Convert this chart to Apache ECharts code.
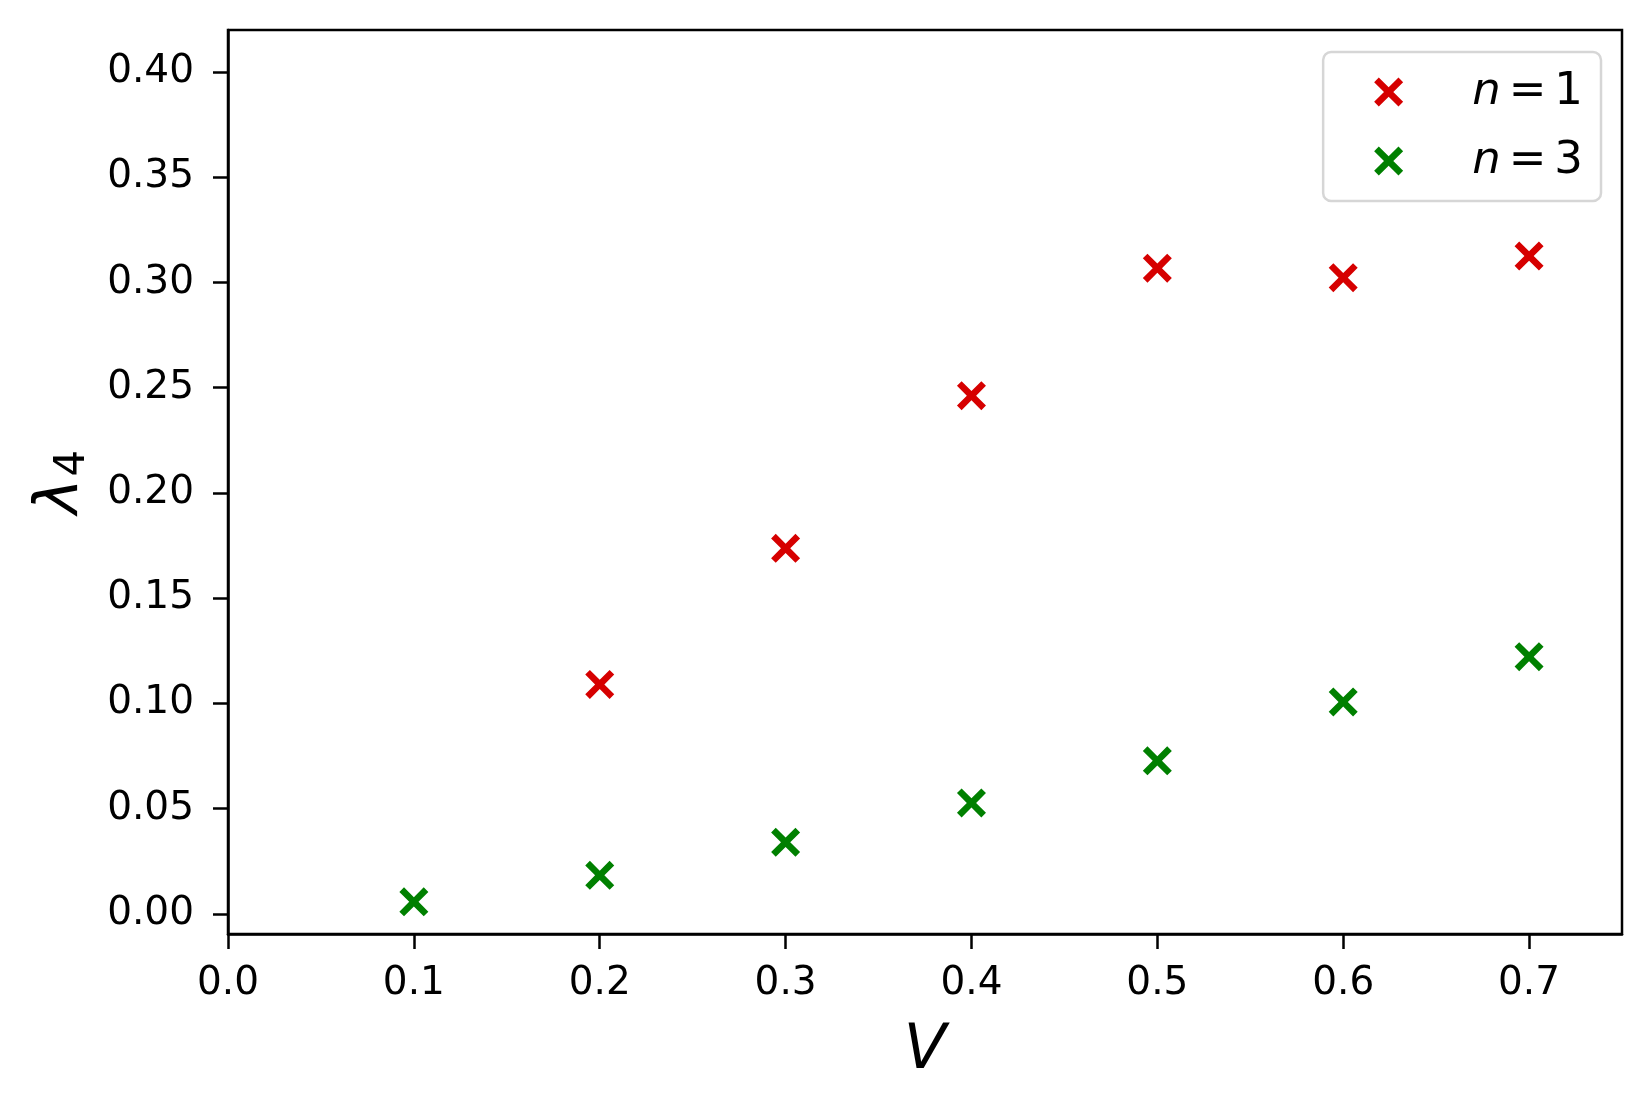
<!DOCTYPE html>
<html>
<head>
<meta charset="utf-8">
<script src="https://cdn.jsdelivr.net/npm/echarts@6/dist/echarts.min.js"></script>
<style>
  html, body { margin: 0; padding: 0; background: #fff; }
  #chart { width: 1652px; height: 1110px; }
</style>
</head>
<body>
<div id="chart"></div>
<script>
// Data
var vValues = [0.1, 0.2, 0.3, 0.4, 0.5, 0.6, 0.7];
var lambdaN1 = [null, 0.109, 0.1737, 0.2462, 0.3068, 0.3023, 0.3126];
var lambdaN3 = [0.0057, 0.0183, 0.034, 0.0527, 0.0727, 0.1007, 0.1222];
var xTicks = [0.0, 0.1, 0.2, 0.3, 0.4, 0.5, 0.6, 0.7];
var yTicks = [0.0, 0.05, 0.10, 0.15, 0.20, 0.25, 0.30, 0.35, 0.40];
var seriesNames = ['n = 1', 'n = 3'];

// x marker drawn as filled polygon
var crossPath = 'path://M1.6,0L5,3.4L8.4,0L10,1.6L6.6,5L10,8.4L8.4,10L5,6.6L1.6,10L0,8.4L3.4,5L0,1.6Z';
var font = 'DejaVu Sans';

function pairs(xs, ys) {
    var out = [];
    for (var i = 0; i < xs.length; i++) {
        if (ys[i] != null) out.push([xs[i], ys[i]]);
    }
    return out;
}

var myChart = echarts.init(document.getElementById('chart'), null, { renderer: 'canvas' });

var option = {
    backgroundColor: '#ffffff',
    animation: false,
    grid: {
        left: 228,
        right: 30,
        top: 30,
        bottom: 176,
        show: true,
        borderColor: '#000',
        borderWidth: 2.5,
        backgroundColor: 'transparent'
    },
    legend: {
        orient: 'vertical',
        right: 51,
        top: 52,
        itemWidth: 29,
        itemHeight: 29,
        itemGap: 19,
        padding: [15, 18, 15, 51],
        backgroundColor: '#fff',
        borderColor: '#d6d6d6',
        borderWidth: 2.5,
        borderRadius: 8,
        data: [
            { name: seriesNames[0], icon: crossPath },
            { name: seriesNames[1], icon: crossPath }
        ],
        formatter: function (name) {
            return '{i|n}{e|=}{d|' + name.slice(-1) + '}';
        },
        textStyle: {
            fontFamily: font,
            fontSize: 45,
            color: '#000',
            lineHeight: 50,
            padding: [0, 0, 0, 64],
            rich: {
                i: { fontFamily: font, fontSize: 45, fontStyle: 'italic', color: '#000' },
                e: { fontFamily: font, fontSize: 45, color: '#000', padding: [0, 8, 0, 8] },
                d: { fontFamily: font, fontSize: 45, color: '#000' }
            }
        }
    },
    xAxis: {
        type: 'value',
        min: 0,
        max: 0.75,
        interval: 0.1,
        name: 'V',
        nameLocation: 'middle',
        nameGap: 87,
        nameTextStyle: { fontFamily: font, fontSize: 62, fontStyle: 'italic', color: '#000' },
        splitLine: { show: false },
        axisLine: { show: true, onZero: false, lineStyle: { color: '#000', width: 2.5 } },
        axisTick: { show: true, length: 15, lineStyle: { color: '#000', width: 2.5 }, customValues: xTicks },
        axisLabel: {
            fontFamily: font,
            fontSize: 39,
            color: '#000',
            margin: 30,
            customValues: xTicks,
            formatter: function (v) { return v.toFixed(1); }
        }
    },
    yAxis: {
        type: 'value',
        min: -0.0096,
        max: 0.42,
        name: '{l|λ}{s|4}',
        nameLocation: 'middle',
        nameRotate: 90,
        nameGap: 134,
        nameTextStyle: {
            color: '#000',
            rich: {
                l: { fontFamily: font, fontSize: 60, fontStyle: 'italic', color: '#000' },
                s: { fontFamily: font, fontSize: 42, color: '#000', padding: [24, 0, 0, 2] }
            }
        },
        splitLine: { show: false },
        axisLine: { show: true, onZero: false, lineStyle: { color: '#000', width: 2.5 } },
        axisTick: { show: true, length: 15, lineStyle: { color: '#000', width: 2.5 }, customValues: yTicks },
        axisLabel: {
            fontFamily: font,
            fontSize: 39,
            color: '#000',
            margin: 34,
            customValues: yTicks,
            formatter: function (v) { return v.toFixed(2); }
        }
    },
    series: [
        {
            name: seriesNames[0],
            type: 'scatter',
            symbol: crossPath,
            symbolSize: 29,
            itemStyle: { color: '#d60000', opacity: 1 },
            data: pairs(vValues, lambdaN1)
        },
        {
            name: seriesNames[1],
            type: 'scatter',
            symbol: crossPath,
            symbolSize: 29,
            itemStyle: { color: '#008000', opacity: 1 },
            data: pairs(vValues, lambdaN3)
        }
    ]
};

myChart.setOption(option);
</script>
</body>
</html>
